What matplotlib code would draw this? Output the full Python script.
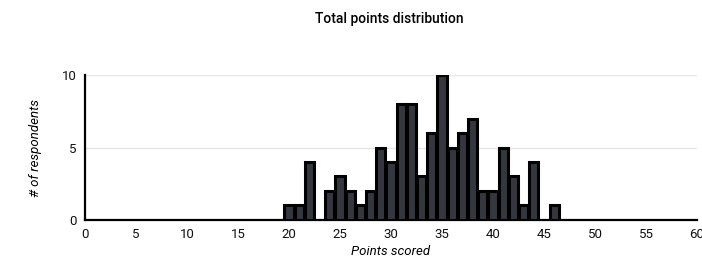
import matplotlib.pyplot as plt

points = [20, 21, 22, 24, 25, 26, 27, 28, 29, 30, 31, 32, 33, 34, 35, 36,
          37, 38, 39, 40, 41, 42, 43, 44, 46]
respondents = [1, 1, 4, 2, 3, 2, 1, 2, 5, 4, 8, 8, 3, 6, 10, 5,
               6, 7, 2, 2, 5, 3, 1, 4, 1]
x_ticks = list(range(0, 65, 5))
y_ticks = [0, 5, 10]

plt.rcParams["font.family"] = ["Roboto", "DejaVu Sans"]

fig = plt.figure(figsize=(7.02, 2.59), dpi=100)
ax = fig.add_axes([0.121, 0.151, 0.872, 0.559])

ax.bar(points, respondents, width=0.9, color="#34373d", edgecolor="black",
       linewidth=2.2, zorder=3)

ax.set_xlim(0, 60)
ax.set_ylim(0, 10)
ax.set_xticks(x_ticks)
ax.set_yticks(y_ticks)
ax.grid(axis="y", color="#e6e6e6", linewidth=1, zorder=0)
ax.tick_params(length=0, labelsize=9.5, pad=6, colors="#111111")

for side in ["top", "right"]:
    ax.spines[side].set_visible(False)
ax.spines["left"].set_linewidth(1.6)
ax.spines["bottom"].set_linewidth(1.6)

ax.set_xlabel("Points scored", fontsize=9.5, style="italic", labelpad=3)
ax.set_ylabel("# of respondents", fontsize=9.5, style="italic", labelpad=14)
fig.suptitle("Total points distribution", x=0.555, y=0.955, fontsize=10,
             fontweight="medium")

fig.savefig("out.png", dpi=100)
